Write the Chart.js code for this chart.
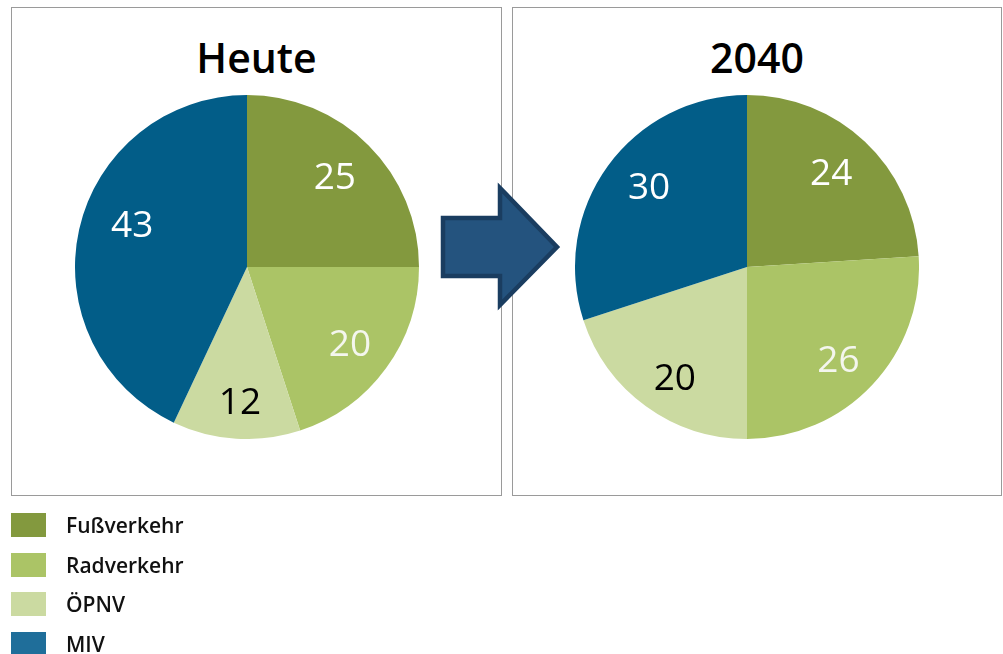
<!DOCTYPE html>
<html>
<head>
<meta charset="utf-8">
<script src="https://cdn.jsdelivr.net/npm/chart.js"></script>
<style>
  html, body { margin:0; padding:0; background:#fff; }
  body { width:1003px; height:654px; position:relative; overflow:hidden; font-family:"Open Sans", sans-serif; }
  .box { position:absolute; border:1px solid #9a9a9a; box-sizing:border-box; }
  .title { position:absolute; font-weight:600; font-size:41px; color:#000; text-align:center; line-height:1; }
  canvas { position:absolute; }
  .leg { position:absolute; left:11px; height:24px; }
  .sw { position:absolute; left:0; top:0; width:35px; height:24px; }
  .lt { position:absolute; left:55px; top:-2px; font-size:21px; font-weight:600; color:#111; white-space:nowrap; line-height:28px; }
  svg { position:absolute; left:0; top:0; }
</style>
</head>
<body>
<div class="box" style="left:11px;top:7px;width:491px;height:489px;"></div>
<div class="box" style="left:512px;top:7px;width:490px;height:489px;"></div>
<div class="title" id="t1" style="left:11px;width:491px;top:37px;"></div>
<div class="title" id="t2" style="left:512px;width:490px;top:37px;"></div>
<canvas id="c1" width="344" height="344" style="left:75px;top:95px;"></canvas>
<canvas id="c2" width="344" height="344" style="left:575px;top:95px;"></canvas>
<svg width="1003" height="654">
  <polygon points="443,218 500,218 500,188 557,247 500,305 500,276 443,276" fill="#24537e" stroke="#1a3d60" stroke-width="4.5" stroke-linejoin="miter"/>
</svg>
<div id="legend"></div>
<script>
const categories = ['Fußverkehr', 'Radverkehr', 'ÖPNV', 'MIV'];
const heuteValues = [25, 20, 12, 43];
const values2040 = [24, 26, 20, 30];
const titles = ['Heute', '2040'];

const pieColors = ['#83993e', '#abc466', '#cbdaa1', '#025d88'];
const legendColors = ['#83993e', '#abc466', '#cbdaa1', '#1f6e9a'];
const labelColors = ['#ffffff', '#f4f6ee', '#000000', '#ffffff'];

// label placement styles per slice: [angle shift in degrees, radius fraction]
const labelPlace1 = [[-0.6, 0.73], [1.1, 0.75], [-0.6, 0.79], [7.4, 0.71]];
const labelPlace2 = [[-1.1, 0.73], [2.4, 0.76], [-3, 0.77], [3.2, 0.735]];

document.getElementById('t1').textContent = titles[0];
document.getElementById('t2').textContent = titles[1];

function labelPlugin(place) {
  return {
    id: 'sliceLabels',
    afterDatasetsDraw(chart) {
      const ctx = chart.ctx;
      const meta = chart.getDatasetMeta(0);
      ctx.save();
      ctx.font = '400 37px "Open Sans"';
      ctx.textAlign = 'center';
      ctx.textBaseline = 'middle';
      meta.data.forEach((arc, i) => {
        const p = arc.getProps(['x','y','startAngle','endAngle','outerRadius'], true);
        const mid = (p.startAngle + p.endAngle) / 2 + place[i][0] * Math.PI / 180;
        const r = p.outerRadius * place[i][1];
        ctx.fillStyle = labelColors[i];
        ctx.fillText(String(chart.data.datasets[0].data[i]), p.x + Math.cos(mid) * r, p.y + Math.sin(mid) * r + 1);
      });
      ctx.restore();
    }
  };
}

function makePie(id, data, place) {
  new Chart(document.getElementById(id), {
    type: 'pie',
    data: { labels: categories, datasets: [{ data: data, backgroundColor: pieColors, borderWidth: 0 }] },
    options: {
      responsive: false,
      animation: false,
      devicePixelRatio: 1,
      layout: { padding: 0 },
      plugins: { legend: { display: false }, tooltip: { enabled: false } }
    },
    plugins: [labelPlugin(place)]
  });
}
makePie('c1', heuteValues, labelPlace1);
makePie('c2', values2040, labelPlace2);

const legTops = [513, 553, 592, 632];
const leg = document.getElementById('legend');
categories.forEach((c, i) => {
  const d = document.createElement('div');
  d.className = 'leg';
  d.style.top = legTops[i] + 'px';
  d.innerHTML = '<div class="sw" style="background:' + legendColors[i] + '"></div><div class="lt">' + c + '</div>';
  leg.appendChild(d);
});
</script>
</body>
</html>
